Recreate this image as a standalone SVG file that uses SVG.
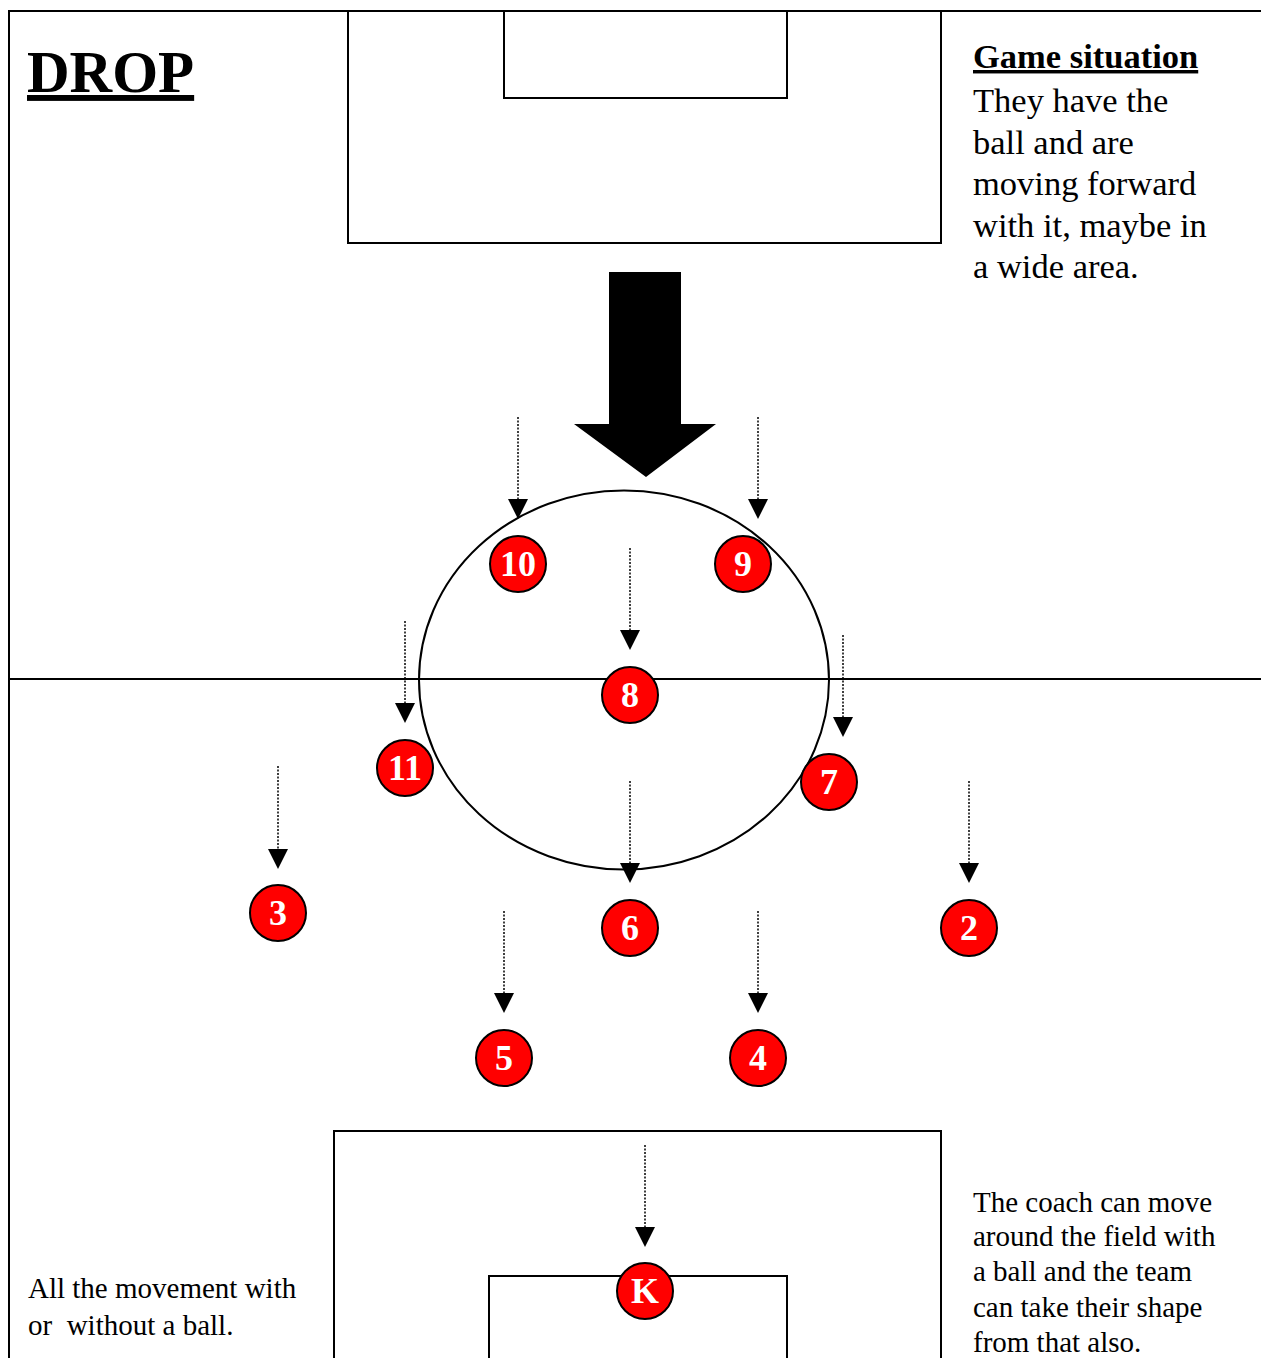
<svg xmlns="http://www.w3.org/2000/svg" width="1261" height="1358" viewBox="0 0 1261 1358">
  <style>
    .field { fill: none; stroke: #000; stroke-width: 2; }
    .player circle { fill: #ff0000; stroke: #000; stroke-width: 2; }
    .player text { font-family: "Liberation Serif", "Times New Roman", serif; font-weight: bold; font-size: 36px; fill: #fff; text-anchor: middle; }
    .run { stroke: #000; stroke-width: 1.5; stroke-dasharray: 2 1.5; marker-end: url(#head); }
    .note { font-family: "Liberation Serif", "Times New Roman", serif; fill: #000; }
  </style>
  <defs>
    <marker id="head" markerUnits="userSpaceOnUse" markerWidth="22" markerHeight="22" viewBox="0 -11 22 22" refX="0" refY="0" orient="auto">
      <path d="M0,-10 L20,0 L0,10 z" fill="#000"/>
    </marker>
  </defs>

  <rect width="1261" height="1358" fill="#fff"/>

  <!-- pitch markings -->
  <g id="pitch">
    <path class="field" d="M9,1358 V11 H1261"/>
    <line class="field" x1="9" y1="679" x2="1261" y2="679"/>
    <path class="field" d="M348,11 V243 H941 V11"/>
    <path class="field" d="M504,11 V98 H787 V11"/>
    <path class="field" d="M334,1358 V1131 H941 V1358"/>
    <path class="field" d="M489,1358 V1276 H787 V1358"/>
    <ellipse class="field" cx="624" cy="680" rx="205" ry="189.5"/>
  </g>

  <!-- direction of play -->
  <g id="big-arrow">
    <path d="M609,272 H681 V424 H716 L646,477 L574,424 H609 Z" fill="#000"/>
  </g>

  <!-- dropping runs -->
  <g id="connectors">
    <line class="run" x1="518" y1="417" x2="518" y2="499"/>
    <line class="run" x1="758" y1="417" x2="758" y2="499"/>
    <line class="run" x1="630" y1="548" x2="630" y2="630"/>
    <line class="run" x1="405" y1="621" x2="405" y2="703"/>
    <line class="run" x1="843" y1="635" x2="843" y2="717"/>
    <line class="run" x1="630" y1="781" x2="630" y2="863"/>
    <line class="run" x1="278" y1="766" x2="278" y2="849"/>
    <line class="run" x1="969" y1="781" x2="969" y2="863"/>
    <line class="run" x1="504" y1="911" x2="504" y2="993"/>
    <line class="run" x1="758" y1="911" x2="758" y2="993"/>
    <line class="run" x1="645" y1="1145" x2="645" y2="1227"/>
  </g>

  <!-- players -->
  <g id="p10" class="player"><circle cx="518" cy="564" r="28"/><text x="518" y="576">10</text></g>
  <g id="p9" class="player"><circle cx="743" cy="564" r="28"/><text x="743" y="576">9</text></g>
  <g id="p8" class="player"><circle cx="630" cy="695" r="28"/><text x="630" y="707">8</text></g>
  <g id="p11" class="player"><circle cx="405" cy="768" r="28"/><text x="405" y="780">11</text></g>
  <g id="p7" class="player"><circle cx="829" cy="782" r="28"/><text x="829" y="794">7</text></g>
  <g id="p3" class="player"><circle cx="278" cy="913" r="28"/><text x="278" y="925">3</text></g>
  <g id="p6" class="player"><circle cx="630" cy="928" r="28"/><text x="630" y="940">6</text></g>
  <g id="p2" class="player"><circle cx="969" cy="928" r="28"/><text x="969" y="940">2</text></g>
  <g id="p5" class="player"><circle cx="504" cy="1058" r="28"/><text x="504" y="1070">5</text></g>
  <g id="p4" class="player"><circle cx="758" cy="1058" r="28"/><text x="758" y="1070">4</text></g>
  <g id="pK" class="player"><circle cx="645" cy="1291" r="28"/><text x="645" y="1303">K</text></g>

  <!-- titles and notes -->
  <g id="title">
    <text class="note" x="27" y="92" font-size="59" font-weight="bold" text-decoration="underline">DROP</text>
  </g>
  <g id="situation" class="note" font-size="34.5">
    <text x="973" y="68" font-weight="bold" text-decoration="underline">Game situation</text>
    <text x="973" y="112">They have the</text>
    <text x="973" y="153.5">ball and are</text>
    <text x="973" y="195">moving forward</text>
    <text x="973" y="236.5">with it, maybe in</text>
    <text x="973" y="278">a wide area.</text>
  </g>
  <g id="movement-note" class="note" font-size="29">
    <text x="28" y="1298">All the movement with</text>
    <text x="28" y="1335" xml:space="preserve">or  without a ball.</text>
  </g>
  <g id="coach-note" class="note" font-size="29">
    <text x="973" y="1212">The coach can move</text>
    <text x="973" y="1246">around the field with</text>
    <text x="973" y="1281">a ball and the team</text>
    <text x="973" y="1317">can take their shape</text>
    <text x="973" y="1352">from that also.</text>
  </g>
</svg>
